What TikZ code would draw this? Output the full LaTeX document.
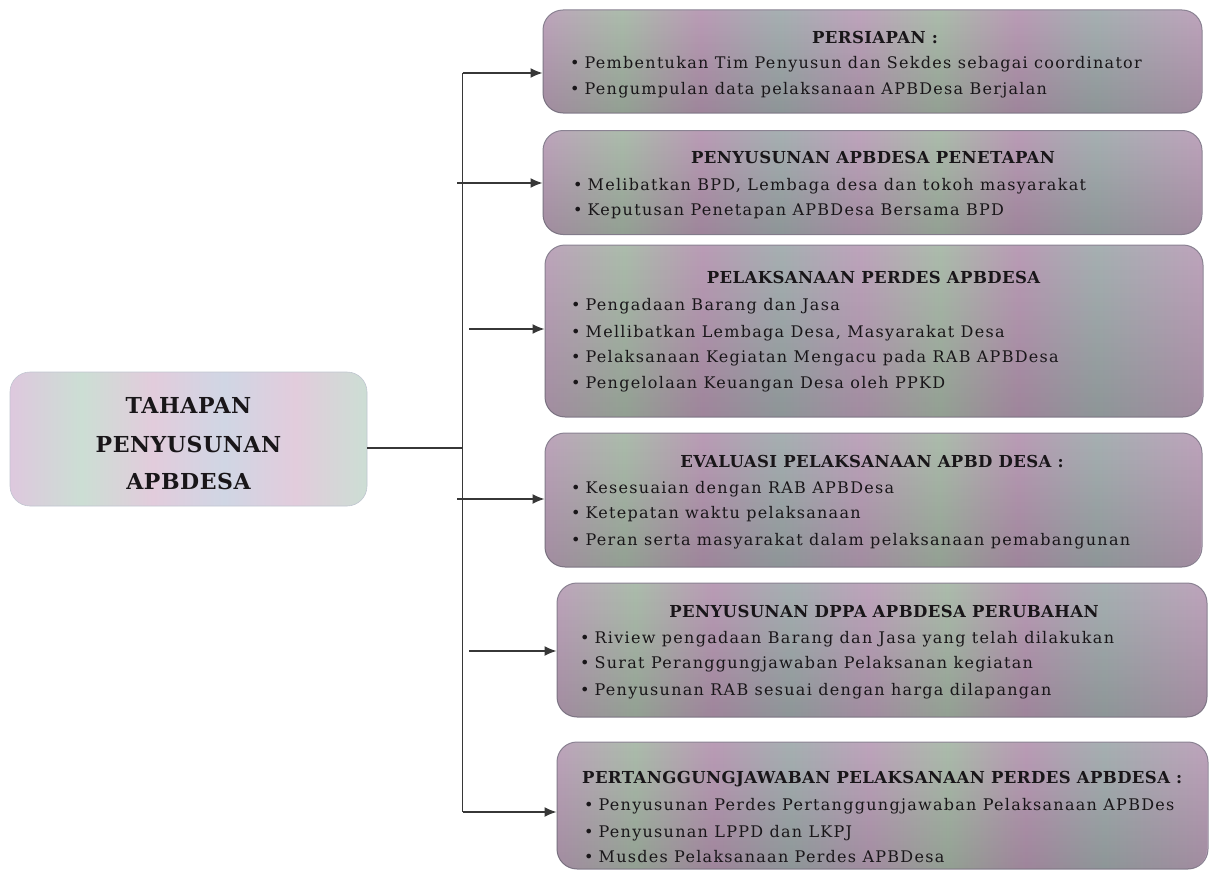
\documentclass[tikz,border=0pt]{standalone}
\usepackage{fontspec}
\setmainfont{DejaVu Serif}
\newfontfamily\bodyfont[LetterSpace=8]{DejaVu Serif}
\newfontfamily\titlefont[LetterSpace=2.5]{DejaVu Serif}
\usetikzlibrary{arrows.meta,fadings}
\definecolor{mA}{RGB}{190,164,188}
\definecolor{gA}{RGB}{172,188,172}
\definecolor{mB}{RGB}{186,156,182}
\definecolor{gB}{RGB}{166,176,178}
\definecolor{pA}{RGB}{222,200,222}
\definecolor{pB}{RGB}{204,222,212}
\definecolor{pC}{RGB}{226,204,220}
\definecolor{pD}{RGB}{208,214,228}
\definecolor{edge}{RGB}{138,130,146}
\definecolor{ink}{RGB}{25,22,25}
\definecolor{linec}{RGB}{55,55,55}
\pgfdeclarehorizontalshading{rshade}{100bp}{color(0bp)=(mA); color(25bp)=(mA); color(31bp)=(gA); color(37bp)=(mB); color(43bp)=(gB); color(49bp)=(mA); color(55bp)=(gA); color(61bp)=(mB); color(67bp)=(gB); color(75bp)=(mA); color(100bp)=(mA)}
\pgfdeclarehorizontalshading{lshade}{100bp}{color(0bp)=(pA); color(25bp)=(pA); color(35bp)=(pB); color(45bp)=(pC); color(55bp)=(pD); color(65bp)=(pC); color(75bp)=(pB); color(100bp)=(pB)}
\begin{document}
\begin{tikzpicture}[x=1pt,y=-1pt,
  rbox/.style={rectangle, rounded corners=20pt, shading=rshade, draw=edge, line width=1pt,
    postaction={fill=black, fill opacity=0.15, path fading=north}, inner sep=0pt},
  mbox/.style={rectangle, rounded corners=20pt, shading=lshade, draw=pD!80!gray, line width=0.6pt, inner sep=0pt},
  ttl/.style={anchor=base, font=\titlefont\fontsize{16.5}{18}\selectfont\bfseries, text=ink, inner sep=0pt},
  ttlw/.style={anchor=base west, font=\titlefont\fontsize{16.5}{18}\selectfont\bfseries, text=ink, inner sep=0pt},
  itm/.style={anchor=base west, font=\bodyfont\fontsize{16}{18}\selectfont, text=ink, inner sep=0pt},
  mtxt/.style={anchor=base, font=\titlefont\fontsize{22}{24}\selectfont\bfseries, text=ink, inner sep=0pt},
  conn/.style={draw=linec, line width=1.4pt},
  arr/.style={draw=linec, line width=1.4pt, -{Latex[length=12pt,width=10pt]}}
]
\useasboundingbox (0,0) rectangle (1210,875);
\newcommand{\bl}{\textbullet\hspace{5pt}}

% main box
\node[mbox, minimum width=357pt, minimum height=134pt] (main) at (188.5,439) {};
\node[mtxt] (m1) at (188.5,413.5) {TAHAPAN};
\node[mtxt] (m2) at (188.5,452) {PENYUSUNAN};
\node[mtxt] (m3) at (188.5,489) {APBDESA};

% right boxes
\node[rbox, minimum width=659pt, minimum height=103pt] (b1) at (872.5,61.5) {};
\node[rbox, minimum width=659pt, minimum height=104pt] (b2) at (872.5,182.5) {};
\node[rbox, minimum width=658pt, minimum height=172pt] (b3) at (874,331) {};
\node[rbox, minimum width=657pt, minimum height=134pt] (b4) at (873.5,500) {};
\node[rbox, minimum width=650pt, minimum height=134pt] (b5) at (882,650) {};
\node[rbox, minimum width=651pt, minimum height=127pt] (b6) at (882.5,805.5) {};

% box 1
\node[ttl] (t1) at (875,44) {PERSIAPAN :};
\node[itm] (i11) at (570,69) {\bl Pembentukan Tim Penyusun dan Sekdes sebagai coordinator};
\node[itm] (i12) at (570,94) {\bl Pengumpulan data pelaksanaan APBDesa Berjalan};
% box 2
\node[ttl] (t2) at (873,163) {PENYUSUNAN APBDESA PENETAPAN};
\node[itm] (i21) at (573,190) {\bl Melibatkan BPD, Lembaga desa dan tokoh masyarakat};
\node[itm] (i22) at (573,215) {\bl Keputusan Penetapan APBDesa Bersama BPD};
% box 3
\node[ttl] (t3) at (873.5,283) {PELAKSANAAN PERDES APBDESA};
\node[itm] (i31) at (571,310) {\bl Pengadaan Barang dan Jasa};
\node[itm] (i32) at (571,337) {\bl Mellibatkan Lembaga Desa, Masyarakat Desa};
\node[itm] (i33) at (571,362) {\bl Pelaksanaan Kegiatan Mengacu pada RAB APBDesa};
\node[itm] (i34) at (571,388) {\bl Pengelolaan Keuangan Desa oleh PPKD};
% box 4
\node[ttl] (t4) at (872,467) {EVALUASI PELAKSANAAN APBD DESA :};
\node[itm] (i41) at (571,493) {\bl Kesesuaian dengan RAB APBDesa};
\node[itm] (i42) at (571,518) {\bl Ketepatan waktu pelaksanaan};
\node[itm] (i43) at (571,545) {\bl Peran serta masyarakat dalam pelaksanaan pemabangunan};
% box 5
\node[ttl] (t5) at (884,617) {PENYUSUNAN DPPA APBDESA PERUBAHAN};
\node[itm] (i51) at (580,643) {\bl Riview pengadaan Barang dan Jasa yang telah dilakukan};
\node[itm] (i52) at (580,668) {\bl Surat Peranggungjawaban Pelaksanan kegiatan};
\node[itm] (i53) at (580,695) {\bl Penyusunan RAB sesuai dengan harga dilapangan};
% box 6
\node[ttlw] (t6) at (582,783) {PERTANGGUNGJAWABAN PELAKSANAAN PERDES APBDESA :};
\node[itm] (i61) at (584,810) {\bl Penyusunan Perdes Pertanggungjawaban Pelaksanaan APBDes};
\node[itm] (i62) at (584,837) {\bl Penyusunan LPPD dan LKPJ};
\node[itm] (i63) at (584,862) {\bl Musdes Pelaksanaan Perdes APBDesa};

% connectors
\coordinate (vtop) at (462.5,73);
\coordinate (vbot) at (462.5,812);
\coordinate (junc) at (462.5,448);
\coordinate (s1) at (462.5,73);
\coordinate (s2) at (457,183);
\coordinate (s3) at (469,329);
\coordinate (s4) at (457,499);
\coordinate (s5) at (469,651);
\coordinate (s6) at (462.5,812);
\draw[conn] (vtop) -- (vbot);
\draw[conn] (main.east |- junc) -- (junc);
\draw[arr] (s1) -- (s1 -| b1.west);
\draw[arr] (s2) -- (s2 -| b2.west);
\draw[arr] (s3) -- (s3 -| b3.west);
\draw[arr] (s4) -- (s4 -| b4.west);
\draw[arr] (s5) -- (s5 -| b5.west);
\draw[arr] (s6) -- (s6 -| b6.west);
\end{tikzpicture}
\end{document}
